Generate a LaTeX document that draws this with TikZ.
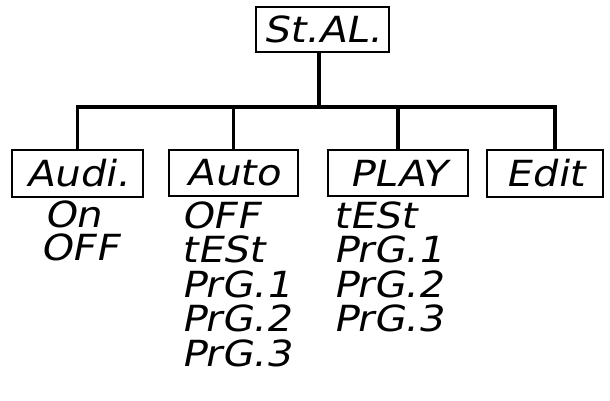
\documentclass[tikz,border=0pt]{standalone}
\usepackage{fontspec}
\newfontfamily\seg{DejaVu Sans}[FakeStretch=1.12,FakeSlant=0.2]
\begin{document}
\begin{tikzpicture}[x=1pt,y=-1pt,
  segfont/.style={font=\seg\fontsize{36}{36}\selectfont},
  box/.style={draw,line width=2.2pt,inner sep=0pt,segfont},
  item/.style={anchor=base west,inner sep=0pt,segfont},
  link/.style={line width=3.4pt}]
\useasboundingbox (0,0) rectangle (610,401);
% boxes
\node[box,minimum width=133pt,minimum height=45pt] (top) at (322.5,29.5) {St.AL.};
\node[box,minimum width=131pt,minimum height=47pt] (audi) at (77.5,173.5) {Audi.};
\node[box,minimum width=129pt,minimum height=46pt] (auto) at (233.5,173) {Auto};
\node[box,minimum width=140pt,minimum height=46pt] (play) at (398,173) {PLAY};
\node[box,minimum width=116pt,minimum height=47pt] (edit) at (545,173.5) {Edit};
% connectors
\coordinate (topc) at (319,52);
\coordinate (bus) at (319,107);
\coordinate (editc) at (555,150);
\draw[link] (topc) -- (bus);
\draw[link] (audi.north) -- (audi.north |- bus) -- (editc |- bus) -- (editc);
\draw[link] (auto.north) -- (auto.north |- bus);
\draw[link] (play.north) -- (play.north |- bus);
% lists
\node[item] (a1) at (44,227) {On};
\node[item] (a2) at (40,260) {OFF};
\node[item] (u1) at (181,228) {OFF};
\node[item] (u2) at (181,262.5) {tESt};
\node[item] (u3) at (181,297) {PrG.1};
\node[item] (u4) at (181,331.5) {PrG.2};
\node[item] (u5) at (181,366) {PrG.3};
\node[item] (p1) at (333,228) {tESt};
\node[item] (p2) at (333,262.5) {PrG.1};
\node[item] (p3) at (333,297) {PrG.2};
\node[item] (p4) at (333,331.5) {PrG.3};
\end{tikzpicture}
\end{document}
